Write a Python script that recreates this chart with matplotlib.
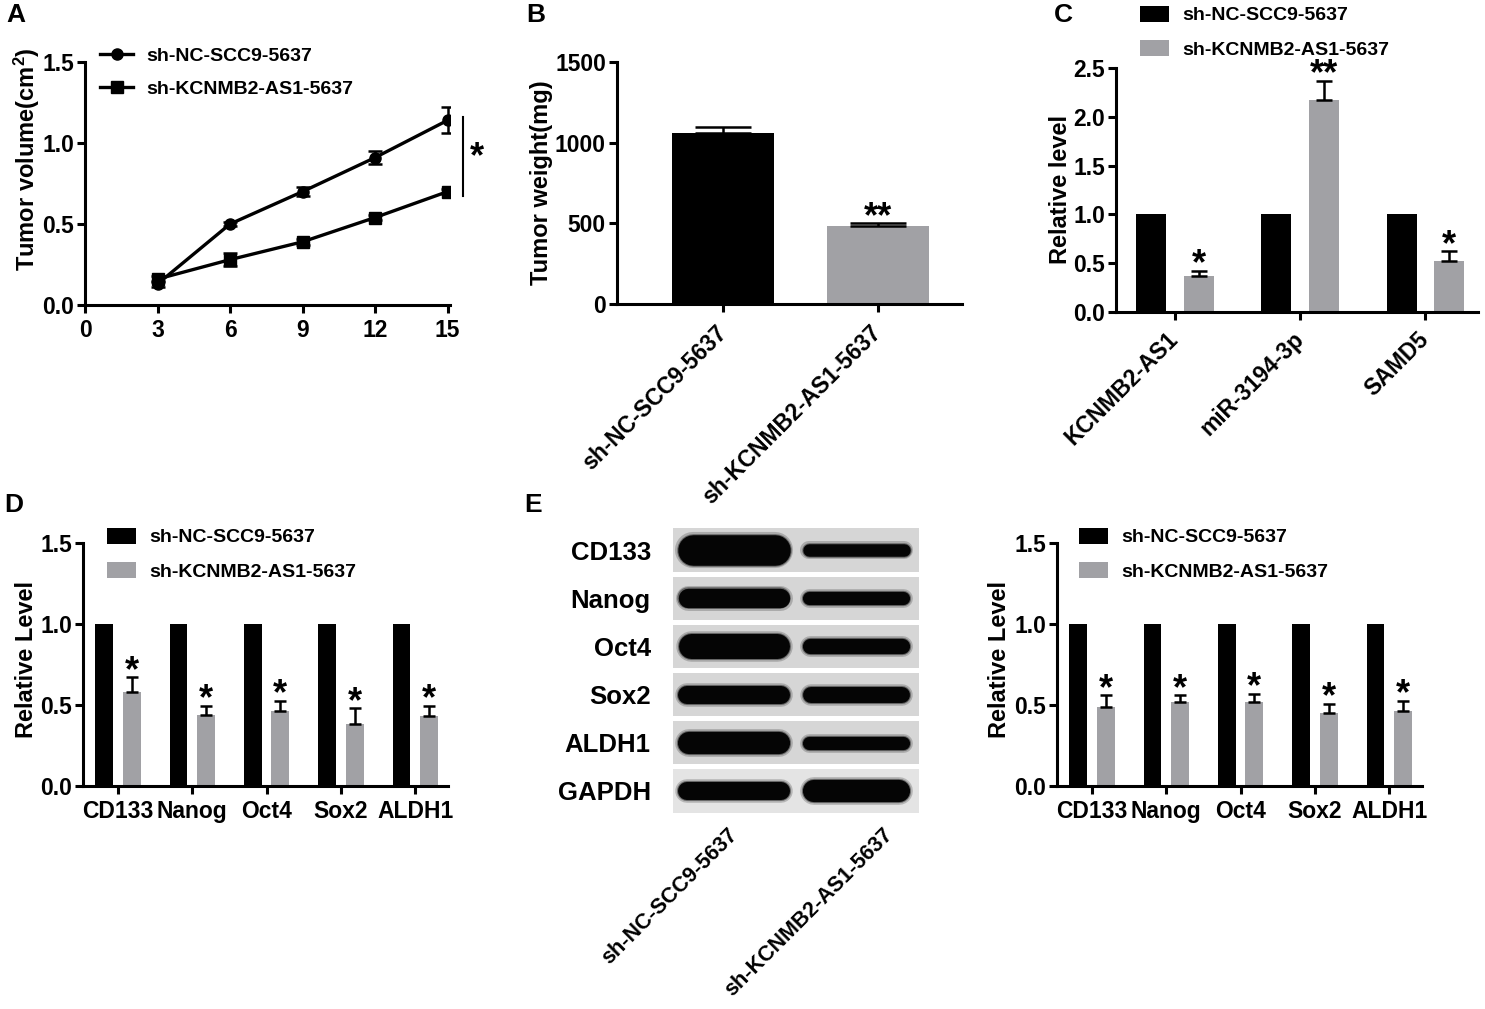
import matplotlib
matplotlib.use("Agg")
import matplotlib.pyplot as plt
from matplotlib.patches import Rectangle
import numpy as np

# ---------------- data ----------------
days = [3, 6, 9, 12, 15]
vol_nc = [0.13, 0.50, 0.70, 0.91, 1.14]
vol_nc_err = [0.02, 0.015, 0.03, 0.04, 0.08]
vol_kd = [0.16, 0.28, 0.39, 0.54, 0.70]
vol_kd_err = [0.02, 0.04, 0.02, 0.015, 0.015]

groups = ['sh-NC-SCC9-5637', 'sh-KCNMB2-AS1-5637']
weight = [1060, 485]
weight_err = [40, 15]

c_genes = ['KCNMB2-AS1', 'miR-3194-3p', 'SAMD5']
c_nc = [1.0, 1.0, 1.0]
c_kd = [0.37, 2.17, 0.52]
c_kd_err = [0.05, 0.20, 0.10]
c_sig = ['*', '**', '*']

markers_cat = ['CD133', 'Nanog', 'Oct4', 'Sox2', 'ALDH1']
d_nc = [1.0, 1.0, 1.0, 1.0, 1.0]
d_kd = [0.58, 0.44, 0.46, 0.38, 0.43]
d_kd_err = [0.09, 0.055, 0.065, 0.10, 0.065]
d_sig = ['*', '*', '*', '*', '*']

e_nc = [1.0, 1.0, 1.0, 1.0, 1.0]
e_kd = [0.49, 0.52, 0.52, 0.45, 0.46]
e_kd_err = [0.07, 0.04, 0.05, 0.055, 0.065]
e_sig = ['*', '*', '*', '*', '*']

blot_rows = ['CD133', 'Nanog', 'Oct4', 'Sox2', 'ALDH1', 'GAPDH']
band_nc = [22, 14, 18, 13, 16, 13]   # band thickness (pt), lane 1
band_kd = [9, 9.5, 11, 11.5, 9.5, 16]  # band thickness (pt), lane 2

# ---------------- style ----------------
plt.rcParams['font.family'] = ['Liberation Sans', 'DejaVu Sans']
plt.rcParams['font.weight'] = 'bold'
plt.rcParams['mathtext.fontset'] = 'custom'
plt.rcParams['mathtext.rm'] = 'Liberation Sans:bold'
plt.rcParams['mathtext.it'] = 'Liberation Sans:bold'
plt.rcParams['mathtext.bf'] = 'Liberation Sans:bold'

BLACK = '#000000'
GRAY = '#a1a1a5'
W, H = 1485, 1009
TICK_FS = 16.5
ROT_FS = 16
LAB_FS = 17
LEG_FS = 14
STAR_FS = 26

fig = plt.figure(figsize=(W / 100, H / 100), dpi=100)


def add_ax(l, t, r, b):
    return fig.add_axes([l / W, 1 - b / H, (r - l) / W, (b - t) / H])


def style(ax):
    for s in ['top', 'right']:
        ax.spines[s].set_visible(False)
    for s in ['left', 'bottom']:
        ax.spines[s].set_linewidth(2.2)
    ax.tick_params(direction='out', length=6, width=2.2, labelsize=TICK_FS, pad=2)
    ax.tick_params(axis='x', pad=4)
    for lab in ax.get_xticklabels() + ax.get_yticklabels():
        lab.set_fontweight('bold')


def ylab(ax, s, x, y=0.5):
    ax.set_ylabel(s, fontsize=LAB_FS, fontweight='bold')
    ax.yaxis.set_label_coords(x, y)


def star(ax, x, y, s):
    ax.annotate(s, (x, y), xytext=(0, -2.5), textcoords='offset points',
                ha='center', va='baseline', fontsize=STAR_FS, fontweight='bold')


def letter(x, y, s):
    fig.text(x / W, 1 - y / H, s, fontsize=19, fontweight='bold', ha='left', va='center')


LEG_KW = dict(bbox_transform=fig.transFigure, frameon=False, handletextpad=0.7,
              borderpad=0, borderaxespad=0, loc='upper left',
              prop={'weight': 'bold', 'size': LEG_FS})

# ---------------- A ----------------
axA = add_ax(85, 62, 450, 305)
axA.errorbar(days, vol_nc, yerr=vol_nc_err, color=BLACK, lw=2.4, marker='o', ms=8,
             capsize=5, elinewidth=1.8, capthick=1.8, label='sh-NC-SCC9-5637')
axA.errorbar(days, vol_kd, yerr=vol_kd_err, color=BLACK, lw=2.4, marker='s', ms=8,
             capsize=5, elinewidth=1.8, capthick=1.8, label='sh-KCNMB2-AS1-5637')
axA.set_xlim(0, 15.1)
axA.set_ylim(0, 1.5)
axA.set_xticks([0, 3, 6, 9, 12, 15])
axA.set_yticks([0.0, 0.5, 1.0, 1.5])
axA.set_yticklabels(['0.0', '0.5', '1.0', '1.5'])
style(axA)
ylab(axA, 'Tumor volume(cm$^{2}$)', -0.118, 0.60)
axA.plot([15.62, 15.62], [vol_kd[-1] - 0.03, vol_nc[-1] + 0.02], color=BLACK, lw=1.5, clip_on=False)
axA.text(16.2, (vol_kd[-1] + vol_nc[-1]) / 2 - 0.01, '*', fontsize=STAR_FS, fontweight='bold',
         ha='center', va='center')
handles, labels = axA.get_legend_handles_labels()
handles = [h[0] for h in handles]
axA.legend(handles, labels, bbox_to_anchor=(100 / W, 1 - 47 / H),
           handlelength=1.7, labelspacing=0.8, **LEG_KW)

# ---------------- B ----------------
axB = add_ax(617, 62, 962, 304)
xb = np.arange(len(groups))
axB.bar(xb, weight, width=0.66, color=[BLACK, GRAY],
        yerr=[[0, 0], weight_err], capsize=20,
        error_kw=dict(elinewidth=1.8, capthick=1.8, ecolor=BLACK))
axB.set_xlim(-0.684, 1.54)
axB.set_ylim(0, 1500)
axB.set_yticks([0, 500, 1000, 1500])
axB.set_xticks(xb)
axB.set_xticklabels(groups, rotation=45, ha='right', va='center', rotation_mode='anchor',
                    fontsize=ROT_FS)
style(axB)
axB.tick_params(axis='x', pad=12)
ylab(axB, 'Tumor weight(mg)', -0.186)
star(axB, 1, weight[1] + weight_err[1], '**')

# ---------------- C ----------------
axC = add_ax(1116, 68, 1478, 312)
xc = np.arange(len(c_genes))
axC.bar(xc - 0.19, c_nc, width=0.24, color=BLACK, label='sh-NC-SCC9-5637')
axC.bar(xc + 0.19, c_kd, width=0.24, color=GRAY, label='sh-KCNMB2-AS1-5637',
        yerr=[[0] * 3, c_kd_err], capsize=6,
        error_kw=dict(elinewidth=1.8, capthick=1.8, ecolor=BLACK))
for i in range(3):
    star(axC, xc[i] + 0.19, c_kd[i] + c_kd_err[i], c_sig[i])
axC.set_xlim(-0.47, 2.42)
axC.set_ylim(0, 2.5)
axC.set_yticks([0, 0.5, 1.0, 1.5, 2.0, 2.5])
axC.set_yticklabels(['0.0', '0.5', '1.0', '1.5', '2.0', '2.5'])
axC.set_xticks(xc)
axC.set_xticklabels(c_genes, rotation=45, ha='right', va='center', rotation_mode='anchor',
                    fontsize=ROT_FS)
style(axC)
axC.tick_params(axis='x', pad=11)
ylab(axC, 'Relative level', -0.122)
axC.legend(bbox_to_anchor=(1140 / W, 1 - 6 / H), handlelength=1.5, handleheight=0.85,
           labelspacing=0.8, **LEG_KW)


# ---------------- D & E bars ----------------
def grouped(ax, nc, kd, err, sig, leg_x, leg_y, lab_x):
    x = np.arange(len(markers_cat))
    ax.bar(x - 0.185, nc, width=0.24, color=BLACK, label='sh-NC-SCC9-5637')
    ax.bar(x + 0.185, kd, width=0.24, color=GRAY, label='sh-KCNMB2-AS1-5637',
           yerr=[[0] * len(x), err], capsize=4.5,
           error_kw=dict(elinewidth=1.8, capthick=1.8, ecolor=BLACK))
    for i in range(len(x)):
        star(ax, x[i] + 0.185, kd[i] + err[i], sig[i])
    ax.set_xlim(-0.47, 4.44)
    ax.set_ylim(0, 1.5)
    ax.set_yticks([0, 0.5, 1.0, 1.5])
    ax.set_yticklabels(['0.0', '0.5', '1.0', '1.5'])
    ax.set_xticks(x)
    ax.set_xticklabels(markers_cat)
    style(ax)
    ylab(ax, 'Relative Level', lab_x, 0.52)
    ax.legend(bbox_to_anchor=(leg_x / W, 1 - leg_y / H), handlelength=1.5,
              handleheight=0.85, labelspacing=0.8, **LEG_KW)


axD = add_ax(83, 543, 448, 786)
grouped(axD, d_nc, d_kd, d_kd_err, d_sig, 107, 528, -0.123)
axE = add_ax(1057, 543, 1422, 786)
grouped(axE, e_nc, e_kd, e_kd_err, e_sig, 1079, 528, -0.126)

# ---------------- E blot ----------------
axW = add_ax(673, 526, 919, 815)
axW.set_xlim(0, 2)
axW.set_ylim(len(blot_rows) - 0.5, -0.5)
px_per_unit = 246 / 2
lane_c = [0.496, 1.49]
lane_half = [0.455, 0.435]
lane_label_x = [0.50, 1.76]
for i in range(len(blot_rows)):
    shade = '#e4e4e4' if blot_rows[i] == 'GAPDH' else '#d6d6d6'
    axW.add_patch(Rectangle((0, i - 0.45), 2, 0.9, facecolor=shade, edgecolor='none'))
    for lane, th in enumerate([band_nc[i], band_kd[i]]):
        cap = th / 0.72 / 2 / px_per_unit
        x0 = lane_c[lane] - lane_half[lane] + cap
        x1 = lane_c[lane] + lane_half[lane] - cap
        axW.plot([x0, x1], [i, i], color='#000000', lw=th + 4, solid_capstyle='round', alpha=0.2)
        axW.plot([x0, x1], [i, i], color='#000000', lw=th + 1.5, solid_capstyle='round', alpha=0.4)
        axW.plot([x0, x1], [i, i], color='#050505', lw=th, solid_capstyle='round')
for s in axW.spines.values():
    s.set_visible(False)
axW.set_yticks(range(len(blot_rows)))
axW.set_yticklabels(blot_rows, fontsize=18.5, fontweight='bold')
axW.set_xticks(lane_label_x)
axW.set_xticklabels(groups, rotation=45, ha='right', va='center', rotation_mode='anchor',
                    fontsize=15.5, fontweight='bold')
axW.tick_params(axis='x', length=0, pad=12)
axW.tick_params(axis='y', length=0, pad=16)

# ---------------- panel letters ----------------
letter(6, 15, 'A')
letter(526, 15, 'B')
letter(1054, 15, 'C')
letter(4, 505, 'D')
letter(524, 505, 'E')

fig.savefig('out.png', dpi=100)
